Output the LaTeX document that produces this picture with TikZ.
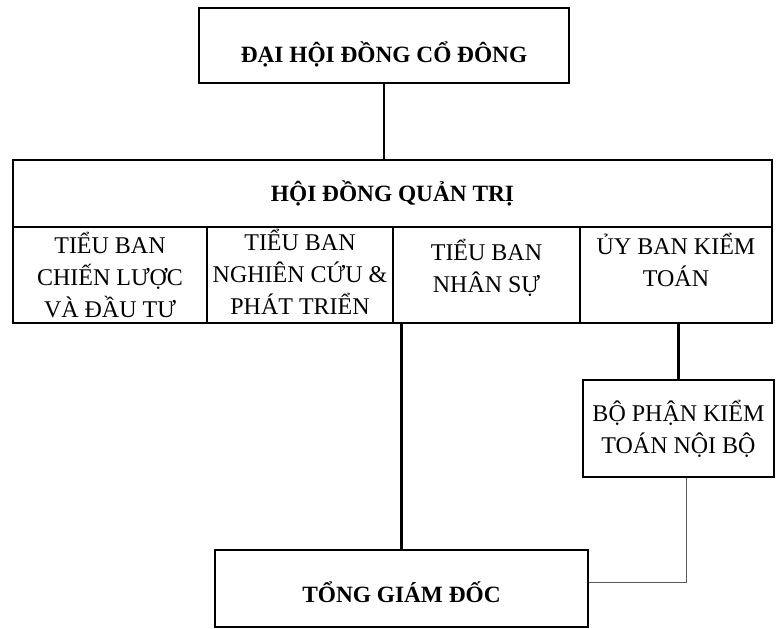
\documentclass[tikz,border=0pt]{standalone}
\usepackage{fontspec}
\setmainfont{Liberation Serif}
\usetikzlibrary{positioning, calc}

\begin{document}
\begin{tikzpicture}[x=0.75pt,y=-0.75pt,line width=1.6pt,
  every node/.style={draw,rectangle,align=center,inner sep=2pt,font=\fontsize{18}{24}\selectfont},
  head/.style={font=\fontsize{17.5}{23}\selectfont\bfseries},
  cell/.style={minimum height=72pt},
  txt/.style={draw=none},
  thin/.style={line width=0.5pt,gray!70!black}
]
\useasboundingbox (0,0) rectangle (776,629);

\node[head,minimum width=277.5pt,minimum height=56.25pt,text height=26pt,text depth=0pt] (nDH) at (384,45.5) {ĐẠI HỘI ĐỒNG CỔ ĐÔNG};
\node[head,minimum width=569.25pt,minimum height=50.25pt] (nHD) at (392.5,193.5) {HỘI ĐỒNG QUẢN TRỊ};

% tieu ban
\node[cell,minimum width=145.5pt] (nC1) at (110,275) {};
\node[cell,minimum width=139.5pt] (nC2) at (300,275) {};
\node[cell,minimum width=140.25pt] (nC3) at (486.5,275) {};
\node[cell,minimum width=144pt] (nC4) at (676,275) {};
\node[txt,below=2pt of nC1.north] (tC1) {TIỂU BAN\\CHIẾN LƯỢC\\VÀ ĐẦU TƯ};
\node[txt,below=0pt of nC2.north] (tC2) {TIỂU BAN\\NGHIÊN CỨU \&\\PHÁT TRIỂN};
\node[txt,below=7pt of nC3.north] (tC3) {TIỂU BAN\\NHÂN SỰ};
\node[txt,below=3pt of nC4.north] (tC4) {ỦY BAN KIỂM\\TOÁN};

\node[minimum width=143.25pt,minimum height=72.75pt] (nBP) at (678.5,428.5) {BỘ PHẬN KIỂM\\TOÁN NỘI BỘ};
\node[head,minimum width=279.75pt,minimum height=57.75pt,text height=21.6pt,text depth=0pt] (nTG) at (401.5,588.5) {TỔNG GIÁM ĐỐC};

\draw (nDH.south) -- (nDH.south |- nHD.north);
\draw (nTG.north) -- (nTG.north |- nC3.south);
\draw (nBP.north) -- (nBP.north |- nC4.south);
\draw[thin] ($(nBP.south)+(8,0)$) |- ($(nTG.east)+(0,-6)$);
\end{tikzpicture}
\end{document}
